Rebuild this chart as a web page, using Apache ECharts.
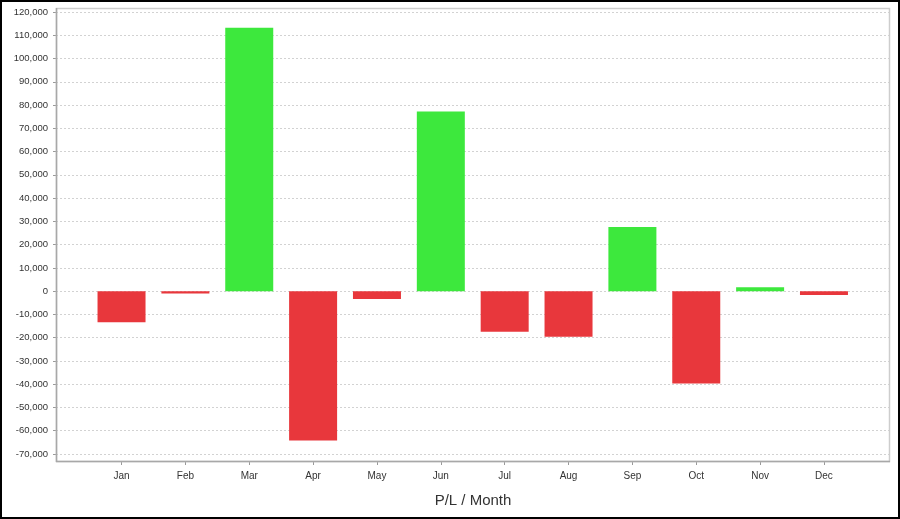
<!DOCTYPE html>
<html>
<head>
<meta charset="utf-8">
<script src="https://cdn.jsdelivr.net/npm/echarts@6/dist/echarts.min.js"></script>
<style>
html,body{margin:0;padding:0;background:#fff;}
#chart{width:900px;height:519px;}
</style>
</head>
<body>
<div id="chart"></div>
<script>
const months = ['Jan','Feb','Mar','Apr','May','Jun','Jul','Aug','Sep','Oct','Nov','Dec'];
const pnl = [-13400, -1000, 113200, -64200, -3400, 77200, -17400, -19600, 27600, -39700, 1700, -1600];
const yMin = -70000;
const yMax = 120000;
const yStep = 10000;
const axisTitle = 'P/L / Month';
const posColor = '#3de83d';
const negColor = '#e8373c';

const chart = echarts.init(document.getElementById('chart'));
const fontFamily = '"Liberation Sans", Arial, sans-serif';

chart.setOption({
  animation: false,
  backgroundColor: '#fff',
  grid: [
    {left: 56, right: 10, top: 12, bottom: 65},
    {left: 89.6, right: 44.1, top: 12, bottom: 65}
  ],
  xAxis: [
    {gridIndex: 0, type: 'value', min: 0, max: 1, show: false},
    {
      gridIndex: 1, type: 'category', data: months, offset: 8, position: 'bottom',
      axisLine: {show: false, onZero: false},
      axisTick: {show: true, alignWithLabel: true, length: 3, lineStyle: {color: '#999'}},
      axisLabel: {fontSize: 10, color: '#333', margin: 9, fontFamily: fontFamily},
      splitLine: {show: false}
    }
  ],
  yAxis: [
    {
      gridIndex: 0, type: 'value', min: yMin, max: yMax, interval: yStep,
      axisLine: {show: false},
      axisTick: {show: true, length: 3, lineStyle: {color: '#999'}},
      axisLabel: {
        fontSize: 9.5, color: '#333', margin: 8, fontFamily: fontFamily,
        formatter: v => v.toLocaleString('en-US')
      },
      splitLine: {show: true, lineStyle: {color: '#d2d2d2', type: [2, 2], width: 1}}
    },
    {gridIndex: 1, type: 'value', min: yMin, max: yMax, interval: yStep, show: false, splitLine: {show: false}}
  ],
  series: [{
    type: 'bar',
    xAxisIndex: 1,
    yAxisIndex: 1,
    data: pnl,
    barWidth: 48,
    itemStyle: {
      color: p => p.value >= 0 ? posColor : negColor
    }
  }],
  graphic: [
    {type: 'rect', z: 100, silent: true,
     shape: {x: 56.5, y: 8.5, width: 833, height: 453},
     style: {fill: null, stroke: '#cdcdcd', lineWidth: 1.5}},
    {type: 'line', z: 101, silent: true,
     shape: {x1: 56.5, y1: 8, x2: 56.5, y2: 462},
     style: {stroke: '#a8a8a8', lineWidth: 1.5}},
    {type: 'line', z: 101, silent: true,
     shape: {x1: 56, y1: 461.5, x2: 890, y2: 461.5},
     style: {stroke: '#a8a8a8', lineWidth: 1.5}},
    {type: 'text', z: 101, silent: true,
     style: {x: 473, y: 501, text: axisTitle, fontSize: 15, fill: '#333', fontFamily: fontFamily,
             align: 'center', verticalAlign: 'middle'}},
    {type: 'rect', z: 102, silent: true,
     shape: {x: 1, y: 1, width: 898, height: 517},
     style: {fill: null, stroke: '#000', lineWidth: 2}}
  ]
});
</script>
</body>
</html>
